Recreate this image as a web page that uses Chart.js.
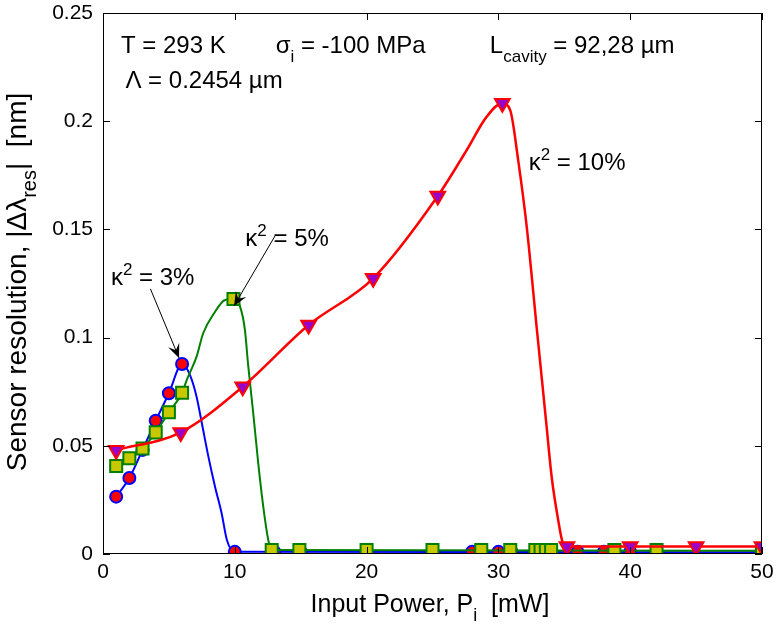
<!DOCTYPE html>
<html>
<head>
<meta charset="utf-8">
<script src="https://cdn.jsdelivr.net/npm/chart.js@4/dist/chart.umd.min.js"></script>
<style>
  html, body { margin: 0; padding: 0; background: #fff; }
  canvas { display: block; }
</style>
</head>
<body>
<canvas id="chart" width="777" height="628"></canvas>
<script>
// κ² = 3% (blue line, red circles)
const k3MarkX = [1, 2, 3, 4, 5, 6, 10, 13, 15, 20, 25, 28, 30, 31, 34, 36, 38, 40, 42, 50];
const k3MarkY = [0.0265, 0.0351, 0.0481, 0.0616, 0.0743, 0.0878, 0.001, 0.001, 0.001, 0.001, 0.001, 0.001, 0.001, 0.001, 0.001, 0.001, 0.001, 0.001, 0.001, 0.001];
const k3CurveX = [1, 2, 3, 4, 5, 6, 6.6, 7.1, 7.5, 8, 8.5, 9, 9.4, 10, 50];
const k3CurveY = [0.0265, 0.0351, 0.0481, 0.0616, 0.0743, 0.0878, 0.0827, 0.0727, 0.0604, 0.0449, 0.0311, 0.0188, 0.0065, 0.001, 0.0008];

// κ² = 5% (green line, yellow squares)
const k5MarkX = [1, 2, 3, 4, 5, 6, 9.9, 12.8, 14.9, 20, 25, 28.7, 30.9, 32.8, 33.2, 33.6, 34, 38.8, 42, 50];
const k5MarkY = [0.0407, 0.0442, 0.0488, 0.0562, 0.0655, 0.0745, 0.1178, 0.0018, 0.0018, 0.0018, 0.0018, 0.0018, 0.0018, 0.0018, 0.0018, 0.0018, 0.0018, 0.0018, 0.0018, 0.0018];
const k5CurveX = [1, 2, 3, 4, 5, 6, 6.35, 7.1, 7.6, 8.4, 9.26, 9.9, 10.4, 10.77, 11, 11.4, 11.78, 12.16, 12.54, 12.8, 50];
const k5CurveY = [0.0407, 0.0442, 0.0488, 0.0562, 0.0655, 0.0745, 0.0804, 0.0912, 0.102, 0.111, 0.1174, 0.1178, 0.1143, 0.1035, 0.0881, 0.065, 0.0419, 0.0219, 0.0065, 0.0018, 0.0015];

// κ² = 10% (red line, purple triangles)
const k10MarkX = [1, 5.9, 10.6, 15.6, 20.5, 25.4, 30.3, 35.2, 40, 45, 50];
const k10MarkY = [0.048, 0.0562, 0.0773, 0.1058, 0.1274, 0.1654, 0.2083, 0.0035, 0.0035, 0.0035, 0.0035];
const k10CurveX = [1, 5.9, 10.6, 15.6, 20.5, 25.4, 27.6, 29.1, 30.3, 30.9, 31.5, 32.15, 32.9, 33.66, 34.04, 34.5, 34.9, 35.2, 50];
const k10CurveY = [0.048, 0.0562, 0.0773, 0.1058, 0.1274, 0.1654, 0.1867, 0.202, 0.2083, 0.205, 0.182, 0.1512, 0.105, 0.0588, 0.0357, 0.017, 0.0049, 0.0035, 0.0035];

const xTicks = [0, 10, 20, 30, 40, 50];
const yTickLabels = ['0', '0.05', '0.1', '0.15', '0.2', '0.25'];

const pts = (xs, ys) => xs.map((x, i) => ({ x, y: ys[i] }));
const FONT = '"Liberation Sans", Arial, sans-serif';

function richText(ctx, parts, x, y, size) {
  // parts: [text, 'sub'|'sup'|undefined]
  let cx = x;
  parts.forEach(([t, mode]) => {
    const s = mode ? Math.round(size * 0.72) : size;
    ctx.font = s + 'px ' + FONT;
    const dy = mode === 'sub' ? size * 0.36 : mode === 'sup' ? -size * 0.42 : 0;
    ctx.fillText(t, cx, y + dy);
    cx += ctx.measureText(t).width;
  });
  return cx - x;
}

function richWidth(ctx, parts, size) {
  let w = 0;
  parts.forEach(([t, mode]) => {
    ctx.font = (mode ? Math.round(size * 0.72) : size) + 'px ' + FONT;
    w += ctx.measureText(t).width;
  });
  return w;
}

function arrow(ctx, x1, y1, x2, y2) {
  const a = Math.atan2(y2 - y1, x2 - x1);
  ctx.strokeStyle = '#000';
  ctx.lineWidth = 1;
  ctx.beginPath();
  ctx.moveTo(x1, y1);
  ctx.lineTo(x2, y2);
  ctx.stroke();
  const L = 14, W = 6;
  ctx.fillStyle = '#000';
  ctx.beginPath();
  ctx.moveTo(x2, y2);
  ctx.lineTo(x2 - L * Math.cos(a) + W * Math.sin(a), y2 - L * Math.sin(a) - W * Math.cos(a));
  ctx.lineTo(x2 - L * 0.6 * Math.cos(a), y2 - L * 0.6 * Math.sin(a));
  ctx.lineTo(x2 - L * Math.cos(a) - W * Math.sin(a), y2 - L * Math.sin(a) + W * Math.cos(a));
  ctx.closePath();
  ctx.fill();
}

const decor = {
  id: 'decor',
  beforeDraw(chart) {
    const ctx = chart.ctx;
    ctx.save();
    ctx.fillStyle = '#fff';
    ctx.fillRect(0, 0, chart.width, chart.height);
    ctx.restore();
  },
  afterDatasetsDraw(chart) {
    const { ctx, chartArea: a, scales: { x, y } } = chart;
    ctx.save();
    // frame and inward ticks
    ctx.strokeStyle = '#000';
    ctx.lineWidth = 1;
    ctx.strokeRect(Math.round(a.left) + 0.5, Math.round(a.top) + 0.5, Math.round(a.right - a.left) - 1, Math.round(a.bottom - a.top) - 1);
    ctx.beginPath();
    x.ticks.forEach(t => {
      const px = Math.round(x.getPixelForValue(t.value)) + 0.5;
      ctx.moveTo(px, a.bottom); ctx.lineTo(px, a.bottom - 7);
      ctx.moveTo(px, a.top); ctx.lineTo(px, a.top + 7);
    });
    y.ticks.forEach(t => {
      const py = Math.round(y.getPixelForValue(t.value)) + 0.5;
      ctx.moveTo(a.left, py); ctx.lineTo(a.left + 7, py);
      ctx.moveTo(a.right, py); ctx.lineTo(a.right - 7, py);
    });
    ctx.stroke();

    // annotations
    ctx.fillStyle = '#000';
    ctx.textBaseline = 'alphabetic';
    ctx.textAlign = 'left';
    const S = 24;
    const X = v => x.getPixelForValue(v), Y = v => y.getPixelForValue(v);
    richText(ctx, [['T = 293 K']], X(1.36), Y(0.2315), S);
    richText(ctx, [['σ'], ['i', 'sub'], [' = -100 MPa']], X(13.1), Y(0.2315), S);
    richText(ctx, [['L'], ['cavity', 'sub'], [' = 92,28 µm']], X(29.35), Y(0.2315), S);
    richText(ctx, [['Λ = 0.2454 µm']], X(1.7), Y(0.2155), S);
    richText(ctx, [['κ'], ['2', 'sup'], [' = 3%']], X(0.6), Y(0.1245), S);
    richText(ctx, [['κ'], ['2', 'sup'], [' = 5%']], X(10.8), Y(0.1425), S);
    richText(ctx, [['κ'], ['2', 'sup'], [' = 10%']], X(32.3), Y(0.1775), S);
    arrow(ctx, X(3.6), Y(0.1225), X(5.77), Y(0.0906));
    arrow(ctx, X(13.1), Y(0.1475), X(9.94), Y(0.1146));

    // axis titles
    const xt = [['Input Power, P'], ['i', 'sub'], ['  [mW]']];
    const xw = richWidth(ctx, xt, 25);
    richText(ctx, xt, 430 - xw / 2, 612, 25);

    const yt = [['Sensor resolution, |Δλ'], ['res', 'sub'], ['|  [nm]']];
    const yw = richWidth(ctx, yt, 28);
    ctx.translate(26, 282);
    ctx.rotate(-Math.PI / 2);
    richText(ctx, yt, -yw / 2, 0, 28);
    ctx.restore();
  }
};

const lineDs = (xs, ys, color, width, order) => ({
  data: pts(xs, ys),
  showLine: true,
  borderColor: color,
  borderWidth: width,
  pointRadius: 0,
  cubicInterpolationMode: 'monotone',
  order
});

const markDs = (xs, ys, style, radius, fill, edge, order, rotation) => ({
  data: pts(xs, ys),
  showLine: false,
  pointStyle: style,
  pointRadius: radius,
  pointRotation: rotation || 0,
  pointBackgroundColor: fill,
  pointBorderColor: edge,
  pointBorderWidth: 2,
  order
});

new Chart(document.getElementById('chart'), {
  type: 'scatter',
  data: {
    datasets: [
      lineDs(k10CurveX, k10CurveY, '#ff0000', 2.5, 1),
      markDs(k10MarkX, k10MarkY, 'triangle', 8.5, '#9900cc', '#ff0000', 0, 180),
      lineDs(k5CurveX, k5CurveY, '#008000', 2, 3),
      markDs(k5MarkX, k5MarkY, 'rect', 8.5, '#c8c800', '#008000', 2),
      lineDs(k3CurveX, k3CurveY, '#0000ff', 2, 5),
      markDs(k3MarkX, k3MarkY, 'circle', 6, '#ff0000', '#0000ff', 4)
    ]
  },
  options: {
    responsive: false,
    animation: false,
    events: [],
    layout: { padding: { top: 13, right: 15, left: 0, bottom: 0 } },
    plugins: { legend: { display: false }, tooltip: { enabled: false } },
    scales: {
      x: {
        type: 'linear', min: 0, max: 50,
        afterBuildTicks: s => { s.ticks = xTicks.map(v => ({ value: v })); },
        ticks: { color: '#000', font: { family: FONT, size: 21 }, padding: 6, maxRotation: 0 },
        grid: { display: false, drawTicks: false },
        border: { display: false },
        afterFit: s => { s.height = 74; s.paddingLeft = 0; s.paddingRight = 0; }
      },
      y: {
        type: 'linear', min: 0, max: 0.25,
        afterBuildTicks: s => { s.ticks = yTickLabels.map(v => ({ value: parseFloat(v) })); },
        ticks: { color: '#000', font: { family: FONT, size: 21 }, padding: 10,
          callback: (v, i) => yTickLabels[i] },
        grid: { display: false, drawTicks: false },
        border: { display: false },
        afterFit: s => { s.width = 103; s.paddingTop = 0; s.paddingBottom = 0; }
      }
    }
  },
  plugins: [decor]
});
</script>
</body>
</html>
